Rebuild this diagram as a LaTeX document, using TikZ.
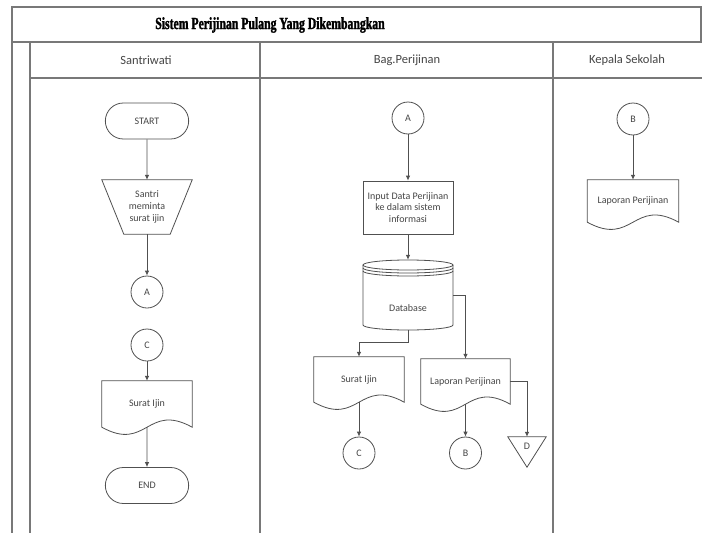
\documentclass[tikz,border=0pt]{standalone}
\usepackage{fontspec}
\setmainfont{Carlito}
\newfontfamily\titlefont[FakeStretch=0.69,FakeBold=1.6]{Liberation Serif}
\usetikzlibrary{arrows.meta,shapes.misc,calc}
\definecolor{framecol}{RGB}{120,120,120}
\definecolor{shapecol}{RGB}{80,80,80}
\definecolor{textcol}{RGB}{70,70,70}
\tikzset{
  lane/.style={draw=framecol, line width=1.6pt},
  shp/.style={draw=shapecol, line width=0.8pt},
  txt/.style={font=\fontsize{10}{11.8}\selectfont, text=textcol, align=center},
  term/.style={shp, txt, rounded rectangle, minimum width=90, minimum height=36},
  conn/.style={shp, txt, circle, minimum size=32, inner sep=0pt},
  proc/.style={shp, txt, rectangle, minimum width=90, minimum height=53, inner sep=1pt},
  ghost/.style={txt, rectangle, inner sep=0pt},
  head/.style={font=\fontsize{12.5}{14}\selectfont, text=textcol},
  arr/.style={draw=shapecol, line width=0.8pt, -{Latex[length=5pt,width=4.5pt]}}
}
\newcommand\docoutline[1]{%
  \draw[shp] (#1.north west) -- (#1.north east) -- (#1.south east)
    .. controls ($(#1.south)+(0,-25)$) and ($(#1.south)+(0,25)$) .. (#1.south west) -- cycle;}
\begin{document}
\begin{tikzpicture}[x=1pt,y=-1pt]
\useasboundingbox[fill=white] (0,0) rectangle (702,533);
% frame
\draw[lane] (12,533) -- (12,7) -- (701,7) -- (701,42);
\draw[lane] (12,42) -- (702,42);
\draw[lane] (30,78) -- (702,78);
\draw[lane] (30,42) -- (30,533);
\draw[lane] (260,42) -- (260,533);
\draw[lane] (553,42) -- (553,533);
\node[font=\titlefont\bfseries\fontsize{17}{17}\selectfont] (title) at (270,25) {Sistem Perijinan Pulang Yang Dikembangkan};
\node[head] (h1) at (146,60) {Santriwati};
\node[head] (h2) at (407,60) {Bag.Perijinan};
\node[head] (h3) at (627,60) {Kepala Sekolah};

% Santriwati
\node[term] (start) at (147,121) {START};
\node[ghost, minimum width=90, minimum height=54] (man) at (147,207) {Santri\\meminta\\surat ijin};
\draw[shp] (man.north west) -- (man.north east) -- ($(man.south east)+(-22,0)$) -- ($(man.south west)+(22,0)$) -- cycle;
\node[conn] (a1) at (147,292) {A};
\node[conn] (c1) at (147,345) {C};
\node[ghost, minimum width=90, minimum height=46] (surat1) at (147,404) {Surat Ijin};
\docoutline{surat1}
\node[term] (end) at (147,485.5) {END};
\draw[arr] (start) -- (man);
\draw[arr] (man) -- (a1);
\draw[arr] (c1) -- (surat1);
\draw[arr] (surat1.south) -- (end);

% Bag.Perijinan
\node[conn] (a2) at (408,118) {A};
\node[proc] (proc) at (408,207.5) {Input Data Perijinan\\ke dalam sistem\\informasi};
\node[ghost, minimum width=90, minimum height=70] (db) at (408,295) {};
\node[txt] (dbt) at (408,308) {Database};
\draw[shp] ($(db.center)+(-45,-30)$) -- ($(db.center)+(-45,30)$)
  arc[start angle=180, end angle=360, x radius=45pt, y radius=5pt] -- ($(db.center)+(45,-30)$);
\draw[shp] ($(db.center)+(0,-30)$) ellipse[x radius=45pt, y radius=5pt];
\draw[shp] ($(db.center)+(-45,-27)$) arc[start angle=180, end angle=360, x radius=45pt, y radius=5pt];
\draw[shp] ($(db.center)+(-45,-24)$) arc[start angle=180, end angle=360, x radius=45pt, y radius=5pt];
\node[ghost, minimum width=90, minimum height=45] (surat2) at (359,379.5) {Surat Ijin};
\docoutline{surat2}
\node[ghost, minimum width=89, minimum height=45] (lap) at (465.5,381.5) {Laporan Perijinan};
\docoutline{lap}
\node[conn] (c2) at (359,453) {C};
\node[conn] (b2) at (465.5,453) {B};
\node[ghost, minimum width=38, minimum height=30] (tri) at (527,452) {};
\draw[shp] (tri.north west) -- (tri.north east) -- (tri.south) -- cycle;
\node[txt] (trid) at (527,446) {D};
\draw[arr] (a2) -- (proc);
\draw[arr] (proc) -- (db);
\draw[arr] (db.south) -- ++(0,12) -| (surat2.north);
\draw[arr] (db.east) -| (lap.north);
\draw[arr] (surat2.south) -- (c2);
\draw[arr] (lap.south) -- (b2);
\draw[arr] (lap.east) -| (tri.north);

% Kepala Sekolah
\node[conn] (b3) at (633,119) {B};
\node[ghost, minimum width=91, minimum height=42] (lapk) at (633,201) {Laporan Perijinan};
\docoutline{lapk}
\draw[arr] (b3) -- (lapk);
\end{tikzpicture}
\end{document}
